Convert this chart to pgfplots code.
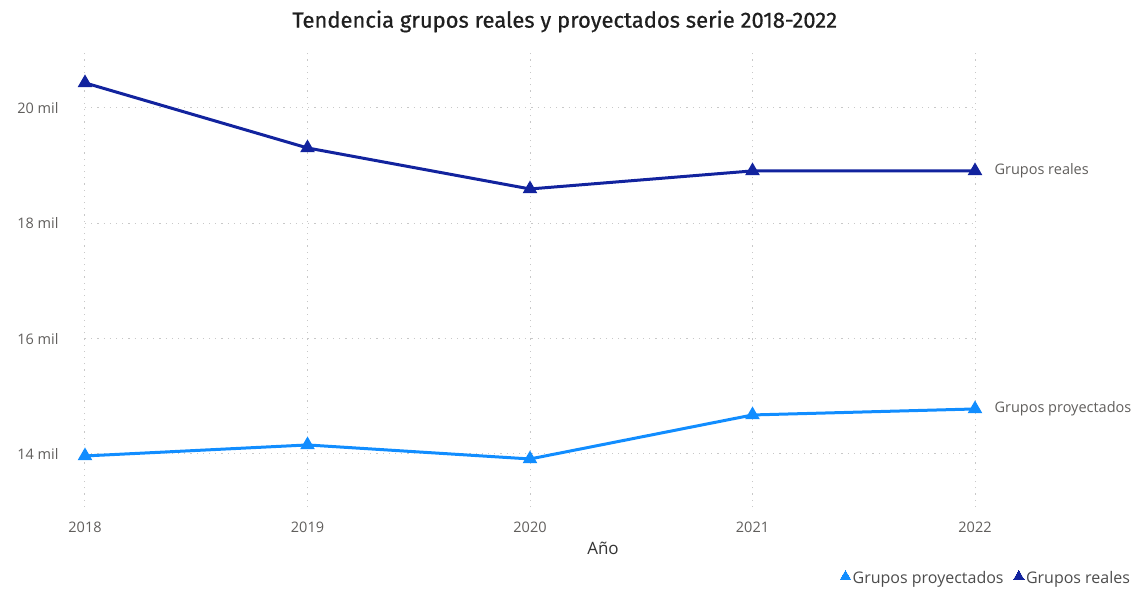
\documentclass[border=0pt]{standalone}
\usepackage{pgfplots}
\pgfplotsset{compat=1.18}
\usepackage{fontspec}
\setmainfont{Open Sans}
\newfontfamily\titlefont[FakeBold=0.6]{Fira Sans}
\definecolor{real}{HTML}{12239E}
\definecolor{proj}{HTML}{118DFF}
\definecolor{lab}{HTML}{605E5C}
\definecolor{gridc}{HTML}{C8C8C8}
\begin{document}
\begin{tikzpicture}
\useasboundingbox (0pt,0pt) rectangle (1142pt,589pt);
\begin{axis}[
  at={(85pt,82pt)}, anchor=south west,
  width=890pt, height=455pt, scale only axis,
  xmin=2018, xmax=2022, ymin=13080, ymax=20970,
  clip=false,
  scaled y ticks=false,
  axis line style={draw=none},
  tick style={draw=none},
  xtick={2018,2019,2020,2021,2022},
  xticklabels={2018,2019,2020,2021,2022},
  ytick={14000,16000,18000,20000},
  yticklabels={14 mil,16 mil,18 mil,20 mil},
  grid=major,
  grid style={gridc, line width=1pt, dash pattern=on 1.2pt off 5pt},
  ticklabel style={font=\fontsize{14.5}{16}\selectfont, text=lab},
  xticklabel style={yshift=-11pt},
  yticklabel style={xshift=-23pt},
  xlabel={Año},
  xlabel style={at={(0.582,-0.09)}, anchor=center, font=\fontsize{17}{19}\selectfont, text=black!80},
  title={\titlefont Tendencia grupos reales y proyectados serie 2018-2022},
  title style={at={(0.539,1.054)}, anchor=center, font=\fontsize{22}{25}\selectfont, text=black!88},
  legend style={at={(1.18,-0.156)}, anchor=east, draw=none, fill=none,
    font=\fontsize{16}{18}\selectfont, text=black!70, legend columns=2,
    /tikz/every even column/.append style={column sep=8pt},
    /tikz/every odd column/.append style={inner xsep=1pt}},
  legend image code/.code={\draw[#1, mark=triangle*, mark size=6pt, line width=0pt] plot coordinates {(0pt,1.5pt)};},
]
\addplot[proj, line width=3pt, mark=triangle*, mark size=5.5pt, mark options={solid}]
  coordinates {(2018,13965)(2019,14156)(2020,13913)(2021,14676)(2022,14780)};
\addlegendentry{Grupos proyectados}
\addplot[real, line width=3pt, mark=triangle*, mark size=5.5pt, mark options={solid}]
  coordinates {(2018,20434)(2019,19306)(2020,18595)(2021,18908)(2022,18908)};
\addlegendentry{Grupos reales}
\node[anchor=west, text=lab, font=\fontsize{14.5}{16}\selectfont, xshift=16pt] at (axis cs:2022,18908) {Grupos reales};
\node[anchor=west, text=lab, font=\fontsize{14.5}{16}\selectfont, xshift=16pt] at (axis cs:2022,14780) {Grupos proyectados};
\end{axis}
\end{tikzpicture}
\end{document}
